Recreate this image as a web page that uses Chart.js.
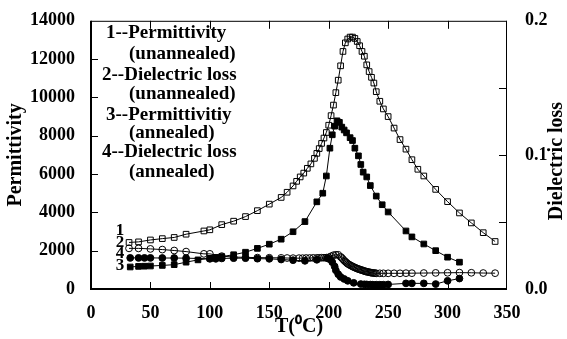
<!DOCTYPE html>
<html>
<head>
<meta charset="utf-8">
<script src="https://cdn.jsdelivr.net/npm/chart.js@4.4.1/dist/chart.umd.min.js"></script>
<style>
  html, body { margin: 0; padding: 0; background: #fff; }
  #wrap { width: 567px; height: 339px; }
</style>
</head>
<body>
<div id="wrap"><canvas id="c" width="567" height="339"></canvas></div>
<script>
// Curve 1: permittivity, unannealed sample
const tempPermUnannealed = [32, 40, 50, 60, 70, 80, 95, 100, 110, 120, 130, 140, 150, 160, 165, 170, 173, 176, 179, 182, 185, 188, 190, 192, 194, 196, 198, 200, 202, 204, 206, 208, 210, 212, 214, 216, 218, 220, 222, 224, 226, 228, 230, 232, 234, 236, 238, 240, 243, 246, 250, 255, 260, 265, 270, 275, 280, 290, 300, 310, 320, 330, 340];
const permUnannealed = [2430, 2460, 2560, 2630, 2690, 2860, 3030, 3090, 3360, 3540, 3780, 4090, 4430, 4780, 5050, 5380, 5620, 5850, 6050, 6300, 6530, 6820, 7080, 7330, 7600, 7880, 8170, 8550, 9050, 9600, 10250, 10900, 11650, 12400, 12850, 13050, 13150, 13150, 13080, 12920, 12700, 12400, 12150, 11700, 11350, 11050, 10750, 10300, 9800, 9400, 9000, 8400, 7800, 7300, 6750, 6250, 5900, 5200, 4560, 3970, 3450, 2940, 2480];

// Curve 2: dielectric loss, unannealed sample
const tempLossUnannealed = [32, 40, 50, 60, 70, 80, 95, 100, 110, 120, 130, 140, 150, 160, 165, 170, 175, 178, 181, 184, 187, 190, 192, 194, 196, 198, 200, 202, 204, 206, 208, 210, 211, 212, 213, 214, 215, 216, 217, 218, 219, 220, 221, 222, 223, 224, 225, 226, 227, 228, 229, 230, 231, 232, 233, 234, 235, 236, 237, 238, 239, 240, 243, 246, 250, 255, 260, 265, 270, 280, 290, 300, 310, 320, 330, 340];
const lossUnannealed = [0.0303, 0.0303, 0.0299, 0.0294, 0.0287, 0.0279, 0.0262, 0.0262, 0.0245, 0.0238, 0.0236, 0.0234, 0.0233, 0.0232, 0.0231, 0.0230, 0.0230, 0.0230, 0.0231, 0.0231, 0.0232, 0.0232, 0.0232, 0.0233, 0.0233, 0.0234, 0.0236, 0.0244, 0.0252, 0.0255, 0.0255, 0.0240, 0.0232, 0.0222, 0.0212, 0.0204, 0.0196, 0.0188, 0.0183, 0.0178, 0.0173, 0.0168, 0.0164, 0.0160, 0.0156, 0.0152, 0.0149, 0.0146, 0.0143, 0.0140, 0.0137, 0.0134, 0.0131, 0.0129, 0.0127, 0.0125, 0.0123, 0.0121, 0.0120, 0.0119, 0.0118, 0.0117, 0.0117, 0.0117, 0.0117, 0.0117, 0.0117, 0.0118, 0.0118, 0.0119, 0.0120, 0.0121, 0.0122, 0.0121, 0.0119, 0.0118];

// Curve 3: permittivity, annealed sample
const tempPermAnnealed = [33, 40, 45, 50, 60, 70, 80, 90, 100, 105, 110, 120, 130, 140, 150, 160, 170, 180, 190, 195, 198, 201, 203, 205, 207, 209, 211, 213, 215, 218, 220, 222, 225, 227, 229, 232, 235, 240, 245, 250, 265, 270, 280, 290, 300, 310];
const permAnnealed = [1150, 1180, 1190, 1200, 1230, 1270, 1400, 1520, 1600, 1650, 1690, 1790, 1920, 2120, 2340, 2600, 2990, 3520, 4550, 5000, 5900, 7350, 8050, 8500, 8780, 8700, 8450, 8300, 8150, 7900, 7750, 7350, 6950, 6500, 6100, 5850, 5400, 4850, 4400, 4020, 3030, 2720, 2350, 2000, 1660, 1400];

// Curve 4: dielectric loss, annealed sample
const tempLossAnnealed = [33, 40, 45, 50, 60, 70, 80, 100, 105, 110, 120, 130, 140, 150, 160, 170, 180, 190, 199, 201, 203, 205, 206, 208, 210, 213, 216, 221, 227, 230, 232, 235, 237, 240, 243, 246, 250, 265, 270, 280, 290, 300, 310];
const lossAnnealed = [0.0232, 0.0232, 0.0232, 0.0232, 0.0231, 0.0231, 0.0230, 0.0225, 0.0225, 0.0228, 0.0230, 0.0230, 0.0226, 0.0225, 0.0220, 0.0215, 0.0210, 0.0218, 0.0229, 0.0222, 0.0200, 0.0168, 0.0139, 0.0110, 0.0090, 0.0075, 0.0061, 0.0046, 0.0037, 0.0035, 0.0034, 0.0033, 0.0032, 0.0032, 0.0032, 0.0032, 0.0034, 0.0042, 0.0042, 0.0042, 0.0037, 0.0061, 0.0078];

// Axis ranges and tick steps
const tempRange = [0, 350, 50];
const permRange = [0, 14000, 2000];
const lossRange = [0, 0.2, 0.05];

// In-plot key text and curve numbers
const keyLines = [
  ['1--Permittivity', 0], ['(unannealed)', 1],
  ['2--Dielectric loss', 0], ['(unannealed)', 1],
  ['3--Permittivitiy', 0], ['(annealed)', 1],
  ['4--Dielectric loss', 0], ['(annealed)', 1]
];
const curveNumbers = ['1', '2', '4', '3'];

const SERIF = "'Liberation Serif', 'Times New Roman', serif";

function pairs(xs, ys) { return xs.map((x, i) => ({ x: x, y: ys[i] })); }

function series(xs, ys, axis, style, filled) {
  return {
    data: pairs(xs, ys),
    yAxisID: axis,
    showLine: true,
    borderColor: '#000',
    borderWidth: 1,
    pointStyle: style,
    pointRadius: style === 'rect' ? 4 : 3.4,
    pointBorderWidth: 1,
    pointBorderColor: '#000',
    pointBackgroundColor: filled ? '#000' : 'rgba(0,0,0,0)',
    tension: 0
  };
}

const frame = {
  id: 'frame',
  afterDatasetsDraw(chart) {
    const ctx = chart.ctx;
    const a = chart.chartArea;
    const sx = chart.scales.x, sy = chart.scales.y, sr = chart.scales.y2;
    ctx.save();
    ctx.strokeStyle = '#000';
    // plot box
    ctx.lineWidth = 1;
    ctx.beginPath();
    ctx.moveTo(a.left, a.top + 0.5); ctx.lineTo(a.right, a.top + 0.5);
    ctx.moveTo(a.right - 0.5, a.top); ctx.lineTo(a.right - 0.5, a.bottom);
    ctx.stroke();
    ctx.lineWidth = 2;
    ctx.beginPath();
    ctx.moveTo(a.left, a.top); ctx.lineTo(a.left, a.bottom);
    ctx.lineTo(a.right, a.bottom);
    ctx.stroke();
    // inward ticks
    ctx.lineWidth = 1;
    ctx.beginPath();
    for (let v = tempRange[0] + tempRange[2]; v < tempRange[1]; v += tempRange[2]) {
      const px = Math.round(sx.getPixelForValue(v)) + 0.5;
      ctx.moveTo(px, a.bottom); ctx.lineTo(px, a.bottom - 7);
      ctx.moveTo(px, a.top); ctx.lineTo(px, a.top + 8);
    }
    for (let v = permRange[0] + permRange[2]; v < permRange[1]; v += permRange[2]) {
      const py = Math.round(sy.getPixelForValue(v)) + 0.5;
      ctx.moveTo(a.left, py); ctx.lineTo(a.left + 7, py);
    }
    for (let k = 1; k < 4; k++) {
      const py = Math.round(sr.getPixelForValue(k * lossRange[2])) + 0.5;
      ctx.moveTo(a.right, py); ctx.lineTo(a.right - 8, py);
    }
    ctx.stroke();

    // key text
    ctx.fillStyle = '#000';
    ctx.font = 'bold 19px ' + SERIF;
    ctx.textBaseline = 'middle';
    ctx.textAlign = 'left';
    const keyY = [33, 54, 75, 94, 115, 133, 152, 172];
    const keyX = [[106, 129], [102, 129], [106, 129], [102, 129]];
    keyLines.forEach((ln, i) => {
      ctx.fillText(ln[0], keyX[Math.floor(i / 2)][ln[1]], keyY[i]);
    });

    // curve numbers beside the starting points
    ctx.font = 'bold 17px ' + SERIF;
    ctx.textAlign = 'center';
    const numY = [231, 243, 254, 266];
    curveNumbers.forEach((t, i) => ctx.fillText(t, 120, numY[i]));

    // right axis title, reading upward
    ctx.font = 'bold 20px ' + SERIF;
    ctx.translate(557, 161);
    ctx.rotate(-Math.PI / 2);
    ctx.fillText('Dielectric loss', 0, 0);
    ctx.restore();
  }
};

const tickFont = { family: SERIF, size: 18, weight: 'bold' };

new Chart(document.getElementById('c'), {
  type: 'scatter',
  data: {
    datasets: [
      series(tempPermUnannealed, permUnannealed, 'y', 'rect', false),
      series(tempLossUnannealed, lossUnannealed, 'y2', 'circle', false),
      series(tempPermAnnealed, permAnnealed, 'y', 'rect', true),
      series(tempLossAnnealed, lossAnnealed, 'y2', 'circle', true)
    ]
  },
  options: {
    responsive: false,
    animation: false,
    devicePixelRatio: 1,
    layout: { padding: { top: 16, left: 0, right: 0, bottom: 0 } },
    plugins: { legend: { display: false }, tooltip: { enabled: false } },
    scales: {
      x: {
        type: 'linear', position: 'bottom',
        min: tempRange[0], max: tempRange[1],
        ticks: { stepSize: tempRange[2], color: '#000', font: tickFont, padding: 6, maxRotation: 0,
          callback: (v) => String(v) },
        grid: { display: false }, border: { display: false },
        title: { display: true, text: 'T(\u2070C)', color: '#000', font: { family: SERIF, size: 20, weight: 'bold' }, padding: { top: 1, bottom: 0 } },
        afterFit(s) { s.height = 50; }
      },
      y: {
        type: 'linear', position: 'left',
        min: permRange[0], max: permRange[1],
        ticks: { stepSize: permRange[2], color: '#000', font: tickFont, padding: 8,
          callback: (v) => String(v) },
        grid: { display: false }, border: { display: false },
        title: { display: true, text: 'Permittivity', color: '#000', font: { family: SERIF, size: 20, weight: 'bold' }, padding: { top: 4, bottom: 0 } },
        afterFit(s) { s.width = 91; }
      },
      y2: {
        type: 'linear', position: 'right',
        min: lossRange[0], max: lossRange[1],
        ticks: {
          stepSize: lossRange[2], color: '#000', font: tickFont, padding: 10,
          callback: (v) => (Math.abs(v * 10 - Math.round(v * 10)) < 1e-6 ? v.toFixed(1) : '')
        },
        grid: { display: false }, border: { display: false },
        afterFit(s) { s.width = 60; }
      }
    }
  },
  plugins: [frame]
});
</script>
</body>
</html>
